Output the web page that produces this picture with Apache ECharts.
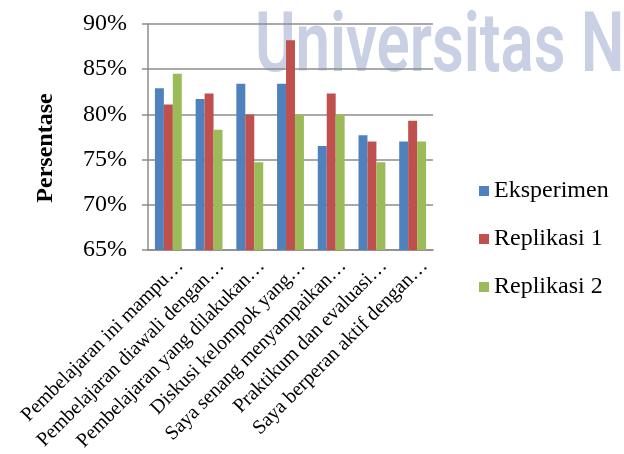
<!DOCTYPE html>
<html><head><meta charset="utf-8">
<script src="https://cdn.jsdelivr.net/npm/echarts@6/dist/echarts.min.js"></script>
<style>html,body{margin:0;padding:0;background:#fff}#c{width:624px;height:454px}</style>
</head><body><div id="c"></div>
<script>
const categories = [
  'Pembelajaran ini mampu…',
  'Pembelajaran diawali dengan…',
  'Pembelajaran yang dilakukan…',
  'Diskusi kelompok yang…',
  'Saya senang menyampaikan…',
  'Praktikum dan evaluasi…',
  'Saya berperan aktif dengan…'
];
const seriesNames = ['Eksperimen', 'Replikasi 1', 'Replikasi 2'];
const eksperimen = [0.829, 0.817, 0.834, 0.834, 0.765, 0.777, 0.770];
const replikasi1 = [0.811, 0.823, 0.800, 0.882, 0.823, 0.770, 0.793];
const replikasi2 = [0.845, 0.783, 0.747, 0.800, 0.800, 0.747, 0.770];
const yTicks = { min: 0.65, max: 0.90, interval: 0.05 };

const colors = ['#4f81bd', '#c0504d', '#9bbb59'];
const serif = '"Liberation Serif", "Times New Roman", serif';
const chart = echarts.init(document.getElementById('c'));
const values = [eksperimen, replikasi1, replikasi2];
chart.setOption({
  animation: false,
  color: colors,
  graphic: [{
    type: 'text', x: 255, y: 8, z: -10, scaleX: 0.735,
    style: { text: 'Universitas N', fill: '#c9d0e3', font: '600 84px "Roboto", sans-serif' }
  }],
  grid: [
    { left: 148, right: 191, top: 24, bottom: 204, containLabel: false },
    { left: 160, right: 179, top: 24, bottom: 204, containLabel: false }
  ],
  legend: {
    orient: 'vertical', left: 474, top: 174, itemWidth: 10, itemHeight: 10, itemGap: 24,
    icon: 'rect', data: seriesNames,
    textStyle: { fontFamily: serif, fontSize: 24, color: '#000' }
  },
  xAxis: [{
    type: 'category', data: categories, gridIndex: 0,
    axisLine: { lineStyle: { color: '#8c8c8c', width: 1.5 } },
    axisTick: { show: false },
    axisLabel: { show: false }
  }, {
    type: 'category', data: categories, gridIndex: 1,
    axisLine: { show: false },
    axisTick: { show: false },
    axisLabel: { interval: 0, rotate: 45, margin: 13, fontFamily: serif, fontSize: 20, color: '#000' }
  }],
  yAxis: [{
    type: 'value', min: yTicks.min, max: yTicks.max, interval: yTicks.interval, gridIndex: 0,
    name: 'Persentase', nameLocation: 'middle', nameGap: 90,
    nameTextStyle: { fontFamily: serif, fontSize: 24, fontWeight: 'bold', color: '#000', padding: [0, 22, 0, 0] },
    axisLine: { show: true, lineStyle: { color: '#8c8c8c', width: 1.5 } },
    axisTick: { show: true, length: 6, lineStyle: { color: '#8c8c8c', width: 1.5 } },
    splitLine: { lineStyle: { color: '#8c8c8c', width: 1.5 } },
    axisLabel: { margin: 21, fontFamily: serif, fontSize: 24, color: '#000',
      formatter: v => Math.round(v * 100) + '%' }
  }, {
    type: 'value', min: yTicks.min, max: yTicks.max, gridIndex: 1, show: false
  }],
  series: seriesNames.map((n, i) => ({
    name: n, type: 'bar', data: values[i], barGap: '0%', barCategoryGap: '34%', z: 2,
    xAxisIndex: 0, yAxisIndex: 0
  }))
});
</script></body></html>
